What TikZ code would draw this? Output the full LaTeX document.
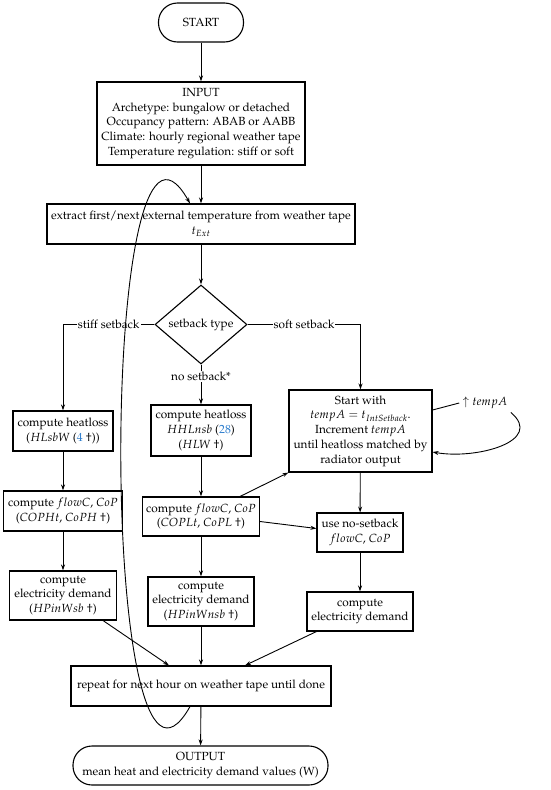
\documentclass[tikz,border=0pt]{standalone}
\usepackage[T1]{fontenc}
\usepackage{mathpazo}
\usetikzlibrary{shapes.geometric,arrows.meta,positioning}
\definecolor{citeblue}{RGB}{45,125,205}

\tikzset{
  term/.style={draw, line width=1.1pt, rounded corners=19pt, align=center, inner sep=2pt},
  block/.style={draw, line width=1.1pt, rectangle, align=center, inner sep=2pt},
  decide/.style={draw, line width=1.1pt, diamond, inner sep=0pt, minimum width=92pt, minimum height=79pt},
  arr/.style={-{Stealth[length=6pt,width=4pt]}, line width=0.9pt},
  lbl/.style={fill=white, inner sep=1pt},
}

\begin{document}
\begin{tikzpicture}[x=1pt,y=-1pt,font=\fontsize{11.8}{14.7}\selectfont]
\useasboundingbox (0,0) rectangle (550,790);

% Start and input
\node[term, minimum width=85pt, minimum height=39pt] (start) at (201,22.5) {START};
\node[block, minimum width=208pt, minimum height=83pt] (input) at (201,123.5) {INPUT\\Archetype: bungalow or detached\\Occupancy pattern: ABAB or AABB\\Climate: hourly regional weather tape\\Temperature regulation: stiff or soft};

% Weather tape
\node[block, minimum width=308pt, minimum height=40pt] (extract) at (201,224) {extract first/next external temperature from weather tape\\$t_{Ext}$};

% Decision
\node[decide] (setback) at (201,324.5) {setback type};

% Stiff setback
\node[block, minimum width=100pt, minimum height=40pt] (hlsb) at (63,431) {compute heatloss\\($HLsbW$ ({\color{citeblue}4} $\dagger$))};
\node[block, minimum width=119pt, minimum height=40pt] (copsb) at (63,511) {compute $flowC$, $CoP$\\($COPHt$, $CoPH$ $\dagger$)};
\node[block, minimum width=107pt, minimum height=49pt] (elsb) at (63,595.5) {compute\\electricity demand\\($HPinWsb$ $\dagger$)};

% No setback
\node[block, minimum width=100pt, minimum height=51pt] (hlnsb) at (201,430.5) {compute heatloss\\$HHLnsb$ ({\color{citeblue}28})\\($HLW$ $\dagger$)};
\node[block, minimum width=117pt, minimum height=39pt] (copnsb) at (201,516.5) {compute $flowC$, $CoP$\\($COPLt$, $CoPL$ $\dagger$)};
\node[block, minimum width=106pt, minimum height=49pt] (elnsb) at (201,601.5) {compute\\electricity demand\\($HPinWnsb$ $\dagger$)};

% Soft setback
\node[block, minimum width=143pt, minimum height=82pt] (soft) at (360.5,431) {Start with\\$tempA = t_{IntSetback}$.\\Increment $tempA$\\until heatloss matched by\\radiator output};
\node (tempup) at (485,403) {$\uparrow tempA$};
\node[block, minimum width=86pt, minimum height=39pt] (nosb) at (360,532.5) {use no-setback\\$flowC$, $CoP$};
\node[block, minimum width=106pt, minimum height=39pt] (elsoft) at (360,611.5) {compute\\electricity demand};

% Repeat and output
\node[block, minimum width=260pt, minimum height=40pt] (repeat) at (201,686) {repeat for next hour on weather tape until done};
\node[term, minimum width=255pt, minimum height=39pt] (output) at (200.5,765.5) {OUTPUT\\mean heat and electricity demand values (W)};

% Arrows
\draw[arr] (start) -- (input);
\draw[arr] (input) -- (extract);
\draw[arr] (extract) -- (setback);
\draw[arr] (setback.west) -- node[lbl]{stiff setback} (hlsb.north |- setback.west) -- (hlsb.north);
\draw[arr] (setback.east) -- node[lbl]{soft setback} (soft.north |- setback.east) -- (soft.north);
\draw[arr] (setback.south) -- node[lbl, pos=0.3]{no setback*} (hlnsb.north);
\draw[arr] (hlsb) -- (copsb);
\draw[arr] (copsb) -- (elsb);
\draw[arr] (hlnsb) -- (copnsb);
\draw[arr] (copnsb) -- (elnsb);
\draw[arr] (soft) -- (nosb);
\draw[arr] (nosb) -- (elsoft);
\draw[arr] ([xshift=-20pt]copnsb.north east) -- (soft.south west);
\draw[arr] ([yshift=-5pt]copnsb.east) -- ([yshift=4pt]nosb.west);
\draw[line width=0.9pt] ([yshift=21pt]soft.east) -- (tempup.west);
\draw[arr] (tempup.south east) to[out=-40, in=-10, looseness=1.3] ([yshift=-21pt]soft.east);
\draw[arr] ([xshift=-14pt]elsb.south east) -- ([xshift=-32pt]repeat.north);
\draw[arr] (elnsb) -- (repeat);
\draw[arr] ([xshift=10pt]elsoft.south west) -- ([xshift=44pt]repeat.north);
\draw[arr] (repeat) -- (output);

% Loop back to weather tape
\draw[arr] ([xshift=-11pt]repeat.south) .. controls (98,870) and (98,40) .. ([xshift=-11pt]extract.north);
\end{tikzpicture}
\end{document}
